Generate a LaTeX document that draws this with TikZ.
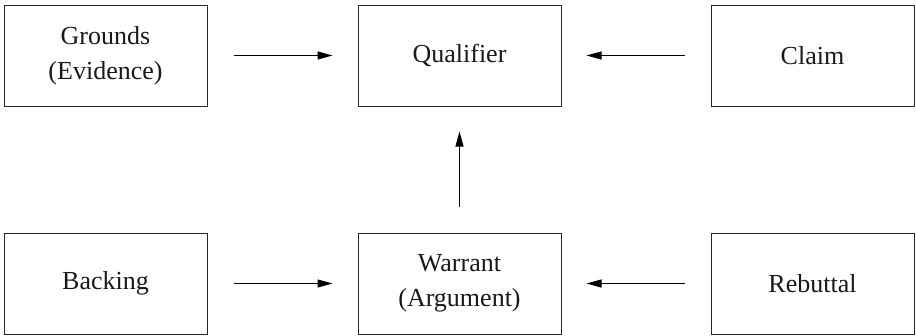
\documentclass[tikz,border=0pt]{standalone}
\usepackage{fontspec}
\setmainfont{Liberation Serif}
\usetikzlibrary{arrows.meta}
\begin{document}
\begin{tikzpicture}[x=1pt,y=-1pt,
  box/.style={draw=black!85, line width=1pt, minimum width=203pt, minimum height=101pt,
    inner sep=0pt, align=center, text=black!90, font=\fontsize{26}{35}\selectfont},
  link/.style={draw=black, line width=1pt, -{Triangle[length=15pt,width=8pt]},
    shorten <=26pt, shorten >=25pt}]
  \useasboundingbox (0,0) rectangle (916,335);
  % top row
  \node[box] (grounds)   at (105.5,55.5) {Grounds\\(Evidence)};
  \node[box] (qualifier) at (459.5,55.5) {Qualifier};
  \node[box] (claim)     at (812.5,55.5) {Claim};
  % bottom row
  \node[box] (backing)   at (105.5,283.5) {Backing};
  \node[box] (warrant)   at (459.5,283.5) {Warrant\\(Argument)};
  \node[box] (rebuttal)  at (812.5,283.5) {Rebuttal};
  % connectors
  \draw[link] (grounds.east) -- (qualifier.west);
  \draw[link] (claim.west) -- (qualifier.east);
  \draw[link] (warrant.north) -- (qualifier.south);
  \draw[link] (backing.east) -- (warrant.west);
  \draw[link] (rebuttal.west) -- (warrant.east);
\end{tikzpicture}
\end{document}
